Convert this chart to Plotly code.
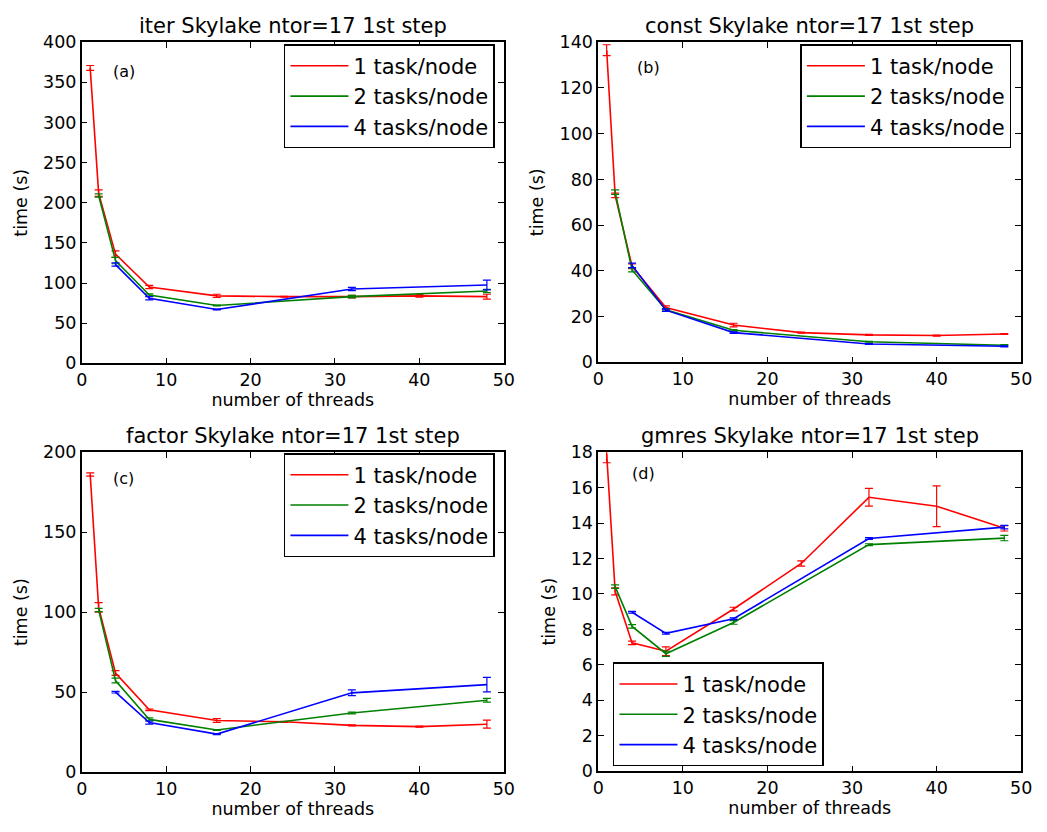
import plotly.graph_objects as go

# ---------------- data ----------------
threads_red = [1, 2, 4, 8, 16, 24, 32, 40, 48]
threads_green = [2, 4, 8, 16, 32, 48]
threads_blue = [4, 8, 16, 32, 48]

# (a) iter
iter_red = [368, 212, 136, 95, 84, 83, 83, 84, 83]
iter_red_err = [3, 4, 4, 2, 2, 0.5, 1.5, 1.5, 3]
iter_green = [209, 128, 85, 72, 83, 90]
iter_green_err = [2, 4, 1.5, 0.5, 1.5, 2]
iter_blue = [123, 81, 67, 92.5, 97.5]
iter_blue_err = [2, 2, 0.5, 2, 6]

# (b) const
const_red = [136.5, 73, 42, 24, 16.3, 13, 12, 11.7, 12.4]
const_red_err = [2.4, 1, 1, 0.7, 0.8, 0.2, 0.2, 0.2, 0.2]
const_green = [74.4, 40.4, 23, 14, 9, 7.5]
const_green_err = [1, 0.8, 0.5, 0.3, 0.2, 0.2]
const_blue = [42.4, 22.8, 13, 8, 7]
const_blue_err = [1, 0.5, 0.3, 0.2, 0.2]

# (c) factor
factor_red = [186, 103, 62, 39, 32.3, 31.5, 29.3, 28.5, 30]
factor_red_err = [1, 3, 1.5, 0.5, 1.2, 0.3, 0.3, 0.3, 2.5]
factor_green = [101.4, 57.3, 33, 26.4, 37, 45]
factor_green_err = [1, 1.5, 1, 0.3, 0.5, 1.2]
factor_blue = [50, 31, 23.8, 49.6, 54.7]
factor_blue_err = [0.5, 1, 0.3, 1.8, 4.5]

# (d) gmres
gmres_red = [17.9, 10.15, 7.24, 6.77, 9.15, 11.72, 15.45, 14.95, 13.7]
gmres_red_err = [0.5, 0.2, 0.1, 0.25, 0.1, 0.15, 0.5, 1.15, 0.15]
gmres_green = [10.41, 8.17, 6.63, 8.39, 12.78, 13.15]
gmres_green_err = [0.1, 0.1, 0.15, 0.1, 0.05, 0.15]
gmres_blue = [8.97, 7.78, 8.6, 13.13, 13.77]
gmres_blue_err = [0.05, 0.05, 0.05, 0.05, 0.1]

series_names = ["1 task/node", "2 tasks/node", "4 tasks/node"]
colors = ["#FF0000", "#008000", "#0000FF"]

panels = [
    dict(title="iter Skylake ntor=17 1st step", tag="(a)", ymax=400, dy=50,
         data=[(threads_red, iter_red, iter_red_err),
               (threads_green, iter_green, iter_green_err),
               (threads_blue, iter_blue, iter_blue_err)]),
    dict(title="const Skylake ntor=17 1st step", tag="(b)", ymax=140, dy=20,
         data=[(threads_red, const_red, const_red_err),
               (threads_green, const_green, const_green_err),
               (threads_blue, const_blue, const_blue_err)]),
    dict(title="factor Skylake ntor=17 1st step", tag="(c)", ymax=200, dy=50,
         data=[(threads_red, factor_red, factor_red_err),
               (threads_green, factor_green, factor_green_err),
               (threads_blue, factor_blue, factor_blue_err)]),
    dict(title="gmres Skylake ntor=17 1st step", tag="(d)", ymax=18, dy=2,
         data=[(threads_red, gmres_red, gmres_red_err),
               (threads_green, gmres_green, gmres_green_err),
               (threads_blue, gmres_blue, gmres_blue_err)]),
]

W, H = 1047, 832
FONT = "DejaVu Sans"
# pixel boxes of the four plot areas: (left, right, top, bottom)
boxes = [(77, 506, 33, 362), (602, 1032, 33, 361), (77, 506, 453, 781), (602, 1032, 453, 780)]
# legend boxes: anchor x, anchor y, xanchor, yanchor
legpos = [(497, 35, "right", "top"), (1022, 35, "right", "top"),
          (497, 454, "right", "top"), (617, 775, "left", "bottom")]
tagpos = [(0.1, 0.91), (0.12, 0.92), (0.1, 0.918), (0.107, 0.933)]

fig = go.Figure()
layout = dict(width=W, height=H, margin=dict(l=0, r=0, t=0, b=0),
              paper_bgcolor="white", plot_bgcolor="white",
              font=dict(family=FONT, color="black"), annotations=[])

for i, p in enumerate(panels):
    n = "" if i == 0 else str(i + 1)
    xa, ya = "x" + n, "y" + n
    leg = "legend" + n
    for j, (xs, ys, es) in enumerate(p["data"]):
        fig.add_trace(go.Scatter(
            x=xs, y=ys, mode="lines", name=series_names[j],
            line=dict(color=colors[j], width=1.6),
            error_y=dict(type="data", array=es, visible=True, color=colors[j],
                         thickness=1.2, width=4),
            xaxis=xa, yaxis=ya, legend=leg, legendgroup=f"{i}-{j}"))
    l, r, t, b = boxes[i]
    common = dict(showline=True, linecolor="black", linewidth=1.5, mirror="ticks",
                  ticks="inside", ticklen=6, tickwidth=1.2, tickcolor="black",
                  showgrid=False, zeroline=False, tickfont=dict(size=17.5, family=FONT))
    layout["xaxis" + n] = dict(domain=[l / W, r / W], range=[0, 50], dtick=10, tick0=0,
                               anchor=ya,
                               title=dict(text="number of threads", font=dict(size=17.5), standoff=4),
                               **common)
    layout["yaxis" + n] = dict(domain=[1 - b / H, 1 - t / H], range=[0, p["ymax"]],
                               dtick=p["dy"], tick0=0, anchor=xa,
                               title=dict(text="time (s)", font=dict(size=17.5), standoff=11),
                               **common)
    lx, ly, xan, yan = legpos[i]
    layout[leg] = dict(x=lx / W, y=1 - ly / H, xanchor=xan, yanchor=yan,
                       xref="paper", yref="paper",
                       bgcolor="white", bordercolor="black", borderwidth=1.5,
                       font=dict(size=21, family=FONT), itemwidth=58,
                       tracegroupgap=4, traceorder="normal")
    layout["annotations"].append(dict(
        text=p["title"], xref=xa + " domain", yref=ya + " domain", x=0.5, y=1,
        xanchor="center", yanchor="bottom", yshift=2, showarrow=False,
        font=dict(size=21, family=FONT)))
    tx, ty = tagpos[i]
    layout["annotations"].append(dict(
        text=p["tag"], xref=xa + " domain", yref=ya + " domain", x=tx, y=ty,
        xanchor="center", yanchor="middle", showarrow=False,
        font=dict(size=16, family=FONT)))

fig.update_layout(**layout)
fig.write_html("out.html")
